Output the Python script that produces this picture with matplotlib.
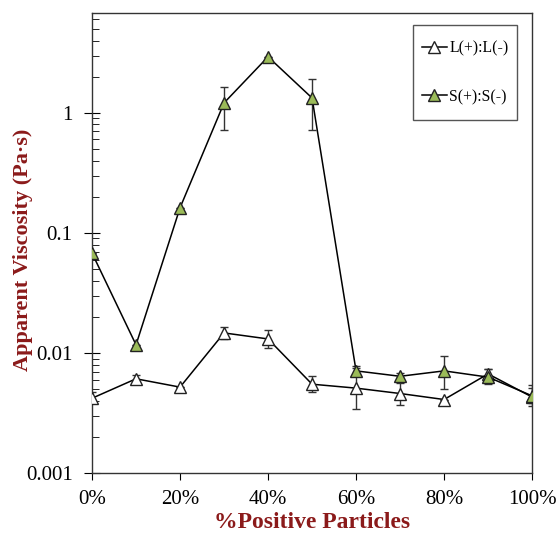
import numpy as np
import matplotlib
matplotlib.use("Agg")
from matplotlib import pyplot as plt
from matplotlib.patches import Rectangle
from matplotlib.ticker import FixedLocator, LogLocator, NullFormatter

plt.rcParams['font.family'] = ['Liberation Serif', 'DejaVu Serif']

pct = [0, 10, 20, 30, 40, 50, 60, 70, 80, 90, 100]
xtick_labels = ['0%', '20%', '40%', '60%', '80%', '100%']

# L(+):L(-)
L_val = [0.0042, 0.0061, 0.0052, 0.0147, 0.0131, 0.0055, 0.0051, 0.0046, 0.0041, 0.0067, 0.0043]
L_lo = [0.0038, 0.0057, 0.0052, 0.0132, 0.0111, 0.0047, 0.0034, 0.0037, 0.0041, 0.0061, 0.0036]
L_hi = [0.0047, 0.0065, 0.0052, 0.0165, 0.0155, 0.0064, 0.0075, 0.0056, 0.0041, 0.0073, 0.0051]

# S(+):S(-)
S_val = [0.068, 0.0117, 0.162, 1.21, 2.93, 1.33, 0.0071, 0.0064, 0.0071, 0.0063, 0.0044]
S_lo = [0.068, 0.0117, 0.162, 0.72, 2.93, 0.72, 0.0065, 0.0060, 0.0050, 0.0055, 0.0038]
S_hi = [0.068, 0.0117, 0.162, 1.65, 2.93, 1.92, 0.0078, 0.0068, 0.0094, 0.0074, 0.0054]

fig = plt.figure(figsize=(5.56, 5.37), dpi=100)
ax = fig.add_axes([0.1655, 0.119, 0.7915, 0.857])

L_err = [np.array(L_val) - np.array(L_lo), np.array(L_hi) - np.array(L_val)]
S_err = [np.array(S_val) - np.array(S_lo), np.array(S_hi) - np.array(S_val)]

style = dict(color='black', lw=1.1, marker='^', ms=8, mec='#222222', mew=1)

ax.errorbar(pct, L_val, yerr=L_err, fmt='none', ecolor='#333333',
            elinewidth=1, capsize=3, zorder=2)
ax.plot(pct, L_val, mfc='white', label='L(+):L(-)', zorder=3, **style)
ax.errorbar(pct, S_val, yerr=S_err, fmt='none', ecolor='#333333',
            elinewidth=1, capsize=3, zorder=2)
ax.plot(pct, S_val, mfc='#9bbb59', label='S(+):S(-)', zorder=4, **style)

ax.set_yscale('log')
ax.set_ylim(0.001, 6.8)
ax.set_xlim(0, 100)
ax.xaxis.set_major_locator(FixedLocator([0, 20, 40, 60, 80, 100]))
ax.set_xticklabels(xtick_labels)
ax.yaxis.set_major_locator(FixedLocator([0.001, 0.01, 0.1, 1]))
ax.set_yticklabels(['0.001', '0.01', '0.1', '1'])
ax.yaxis.set_minor_locator(LogLocator(base=10, subs=np.arange(2, 10)))
ax.yaxis.set_minor_formatter(NullFormatter())

ax.tick_params(axis='x', which='major', direction='out', length=5, labelsize=15, pad=7)
ax.tick_params(axis='y', which='major', direction='inout', length=12, labelsize=15, pad=8)
ax.tick_params(axis='y', which='minor', direction='in', length=5)

for s in ax.spines.values():
    s.set_linewidth(1)
    s.set_color('#333333')

ax.set_xlabel('%Positive Particles', fontsize=17, fontweight='bold', color='#8b1a1a')
ax.xaxis.set_label_coords(0.5, -0.085)
ax.set_ylabel('Apparent Viscosity (Pa\u00b7s)', fontsize=16, fontweight='bold', color='#8b1a1a')
ax.yaxis.set_label_coords(-0.135, 0.485)

# legend frame drawn by hand so the vertical padding can exceed the horizontal one
ax.add_patch(Rectangle((0.7295, 0.767), 0.2365, 0.207, transform=ax.transAxes,
                       facecolor='white', edgecolor='#555555', lw=1, zorder=5))
leg = ax.legend(loc='center', bbox_to_anchor=(0.848, 0.8705), fontsize=11.3,
                handlelength=1.6, handletextpad=0.15, labelspacing=2.1,
                frameon=False)
leg.set_zorder(6)

fig.savefig('out.png', dpi=100)
